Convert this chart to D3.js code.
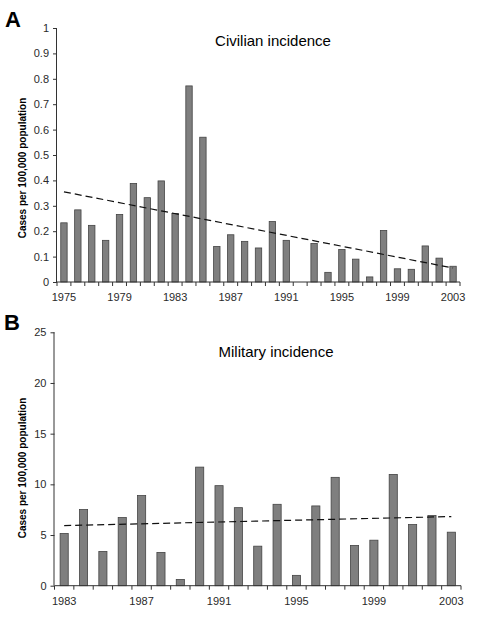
<!DOCTYPE html>
<html>
<head>
<meta charset="utf-8">
<script src="https://cdn.jsdelivr.net/npm/d3@7"></script>
<style>
  html, body { margin: 0; padding: 0; background: #fff; }
  svg { display: block; font-family: "Liberation Sans", Arial, sans-serif; }
</style>
</head>
<body>
<svg id="chart" width="480" height="620"></svg>
<script>
// ---- Data ----
const civilianYears = d3.range(1975, 2004);
const civilianValues = [0.233, 0.284, 0.223, 0.164, 0.266, 0.388, 0.332, 0.398, 0.270, 0.772,
                        0.570, 0.140, 0.186, 0.160, 0.134, 0.238, 0.164, null, 0.152, 0.038,
                        0.128, 0.090, 0.020, 0.203, 0.052, 0.050, 0.142, 0.094, 0.062];
const civilianTrend = [0.355, 0.055];
const civilianYTicks = [0, 0.1, 0.2, 0.3, 0.4, 0.5, 0.6, 0.7, 0.8, 0.9, 1];
const civilianXLabels = [1975, 1979, 1983, 1987, 1991, 1995, 1999, 2003];

const militaryYears = d3.range(1983, 2004);
const militaryValues = [5.15, 7.51, 3.38, 6.72, 8.89, 3.28, 0.62, 11.7, 9.87, 7.7,
                        3.9, 8.03, 1.02, 7.87, 10.69, 3.97, 4.49, 10.98, 6.03, 6.92, 5.28];
const militaryTrend = [5.93, 6.82];
const militaryYTicks = [0, 5, 10, 15, 20, 25];
const militaryXLabels = [1983, 1987, 1991, 1995, 1999, 2003];

const svg = d3.select("#chart");

function panel(cfg) {
  const g = svg.append("g");
  const x = d3.scaleBand().domain(cfg.years).range([cfg.x0, cfg.x1]).padding(0);
  const y = d3.scaleLinear().domain([0, cfg.yMax]).range([cfg.yBottom, cfg.yTop]);
  const bw = x.bandwidth() * cfg.barFrac;

  // bars
  g.selectAll("rect.bar")
    .data(cfg.years.map((yr, i) => ({ yr, v: cfg.values[i] })).filter(d => d.v != null))
    .join("rect")
    .attr("class", "bar")
    .attr("x", d => x(d.yr) + (x.bandwidth() - bw) / 2)
    .attr("width", bw)
    .attr("y", d => y(d.v))
    .attr("height", d => y(0) - y(d.v))
    .attr("fill", "#7f7f7f")
    .attr("stroke", "#444")
    .attr("stroke-width", 0.8);

  // y axis
  const yAxis = d3.axisLeft(y).tickValues(cfg.yTicks).tickSize(4).tickPadding(4)
    .tickFormat(cfg.yFormat);
  const ya = g.append("g").attr("transform", `translate(${cfg.x0},0)`).call(yAxis);
  ya.select(".domain").attr("stroke", "#333").attr("d", `M-0.5,${cfg.yBottom}V${cfg.yTop}`);
  ya.selectAll(".tick line").attr("stroke", "#333");
  ya.selectAll(".tick text").attr("font-size", 11).attr("fill", "#2a2a2a")
    .attr("font-family", "Liberation Sans, Arial, sans-serif");

  // x axis: baseline + ticks at band boundaries
  g.append("line").attr("x1", cfg.x0).attr("x2", cfg.x1)
    .attr("y1", y(0)).attr("y2", y(0)).attr("stroke", "#333");
  const bounds = cfg.years.map(yr => x(yr)).concat([cfg.x1]);
  g.selectAll("line.xt").data(bounds).join("line").attr("class", "xt")
    .attr("x1", d => d).attr("x2", d => d)
    .attr("y1", y(0)).attr("y2", y(0) + 4).attr("stroke", "#333");
  g.selectAll("text.xl").data(cfg.xLabels).join("text").attr("class", "xl")
    .attr("x", d => x(d) + x.bandwidth() / 2)
    .attr("y", y(0) + 19)
    .attr("text-anchor", "middle")
    .attr("font-size", 11).attr("fill", "#2a2a2a")
    .text(d => d);

  // trend line
  const c0 = x(cfg.years[0]) + x.bandwidth() / 2;
  const c1 = x(cfg.years[cfg.years.length - 1]) + x.bandwidth() / 2;
  g.append("line")
    .attr("x1", c0).attr("x2", c1)
    .attr("y1", y(cfg.trend[0])).attr("y2", y(cfg.trend[1]))
    .attr("stroke", "#111").attr("stroke-width", 1.2)
    .attr("stroke-dasharray", "7,4");

  // title
  g.append("text").attr("x", cfg.titleX).attr("y", cfg.titleY)
    .attr("text-anchor", "middle").attr("font-size", 15).attr("fill", "#000")
    .text(cfg.title);

  // panel letter
  g.append("text").attr("x", cfg.letterX).attr("y", cfg.letterY)
    .attr("font-size", 22).attr("font-weight", "bold").attr("fill", "#000")
    .text(cfg.letter);

  // y label
  g.append("text")
    .attr("transform", `translate(${cfg.ylabX},${cfg.ylabY}) rotate(-90)`)
    .attr("text-anchor", "middle").attr("font-size", 10).attr("font-weight", "bold")
    .attr("fill", "#000")
    .text("Cases per 100,000 population");
}

panel({
  years: civilianYears, values: civilianValues, trend: civilianTrend,
  yTicks: civilianYTicks, xLabels: civilianXLabels, yMax: 1,
  yFormat: d => (d === 0 || d === 1) ? String(d) : d3.format(".1f")(d),
  x0: 57, x1: 460, yTop: 28, yBottom: 282, barFrac: 0.46,
  title: "Civilian incidence", titleX: 273, titleY: 46,
  letter: "A", letterX: 5, letterY: 27,
  ylabX: 26, ylabY: 168
});

panel({
  years: militaryYears, values: militaryValues, trend: militaryTrend,
  yTicks: militaryYTicks, xLabels: militaryXLabels, yMax: 25,
  yFormat: d => String(d),
  x0: 54.5, x1: 461, yTop: 332.3, yBottom: 585.7, barFrac: 0.42,
  title: "Military incidence", titleX: 276, titleY: 357,
  letter: "B", letterX: 4, letterY: 330,
  ylabX: 26, ylabY: 468
});
</script>
</body>
</html>
